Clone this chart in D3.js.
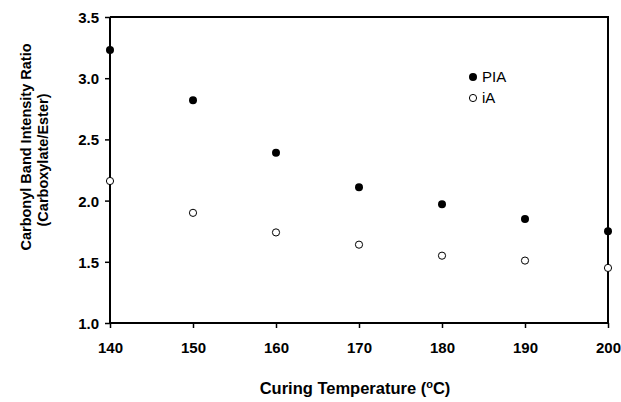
<!DOCTYPE html>
<html>
<head>
<meta charset="utf-8">
<script src="https://cdn.jsdelivr.net/npm/d3@7"></script>
<style>
  html, body { margin: 0; padding: 0; background: #fff; }
  svg { display: block; }
  text { font-family: "Liberation Sans", Arial, sans-serif; fill: #000; }
</style>
</head>
<body>
<svg id="chart" width="621" height="402"></svg>
<script>
// Curing temperature (°C)
const temperatures = [140, 150, 160, 170, 180, 190, 200];
// Carbonyl band intensity ratio (carboxylate/ester)
const piaRatio = [3.23, 2.82, 2.39, 2.11, 1.97, 1.85, 1.75];
const iaRatio  = [2.16, 1.90, 1.74, 1.64, 1.55, 1.51, 1.45];
const xTicks = [140, 150, 160, 170, 180, 190, 200];
const yTicks = [1.0, 1.5, 2.0, 2.5, 3.0, 3.5];
const seriesNames = ["PIA", "iA"];

const svg = d3.select("#chart");
const plot = { left: 110, right: 608, top: 17, bottom: 323 };

const x = d3.scaleLinear().domain([140, 200]).range([plot.left, plot.right]);
const y = d3.scaleLinear().domain([1.0, 3.5]).range([plot.bottom, plot.top]);

// frame: top and right edges
svg.append("path")
  .attr("d", `M${plot.left},${plot.top}H${plot.right}V${plot.bottom}`)
  .attr("fill", "none").attr("stroke", "#000").attr("stroke-width", 2);

const xAxis = svg.append("g")
  .attr("transform", `translate(0,${plot.bottom})`)
  .call(d3.axisBottom(x).tickValues(xTicks).tickSize(5).tickPadding(14).tickFormat(d3.format("d")));
const yAxis = svg.append("g")
  .attr("transform", `translate(${plot.left},0)`)
  .call(d3.axisLeft(y).tickValues(yTicks).tickSize(5).tickPadding(6).tickFormat(d3.format(".1f")));

[xAxis, yAxis].forEach(g => {
  g.select(".domain").attr("stroke-width", 2);
  g.selectAll(".tick line").attr("stroke-width", 1.5);
  g.selectAll(".tick text")
    .style("font-family", "'Liberation Sans', Arial, sans-serif")
    .style("font-size", "15px").style("font-weight", "bold");
});
xAxis.select(".domain").attr("d", `M${plot.left},0H${plot.right}`);
yAxis.select(".domain").attr("d", `M0,${plot.top}V${plot.bottom}`);
yAxis.selectAll(".tick text").attr("dy", "0.36em");

// data points
const pia = temperatures.map((t, i) => ({ t, v: piaRatio[i] }));
const ia = temperatures.map((t, i) => ({ t, v: iaRatio[i] }));

svg.append("g").selectAll("circle").data(ia).join("circle")
  .attr("cx", d => x(d.t)).attr("cy", d => y(d.v)).attr("r", 3.6)
  .attr("fill", "#fff").attr("stroke", "#000").attr("stroke-width", 1);
svg.append("g").selectAll("circle").data(pia).join("circle")
  .attr("cx", d => x(d.t)).attr("cy", d => y(d.v)).attr("r", 4)
  .attr("fill", "#000");

// legend
const legend = svg.append("g");
legend.append("circle").attr("cx", 473).attr("cy", 77).attr("r", 4).attr("fill", "#000");
legend.append("text").attr("x", 482).attr("y", 82).style("font-size", "15px").text(seriesNames[0]);
legend.append("circle").attr("cx", 473).attr("cy", 98).attr("r", 3.6)
  .attr("fill", "#fff").attr("stroke", "#000").attr("stroke-width", 1);
legend.append("text").attr("x", 482).attr("y", 103).style("font-size", "15px").text(seriesNames[1]);

// axis titles
const xTitle = svg.append("text")
  .attr("x", 355).attr("y", 394).attr("text-anchor", "middle")
  .style("font-size", "16.5px").style("font-weight", "bold");
xTitle.append("tspan").text("Curing Temperature (");
xTitle.append("tspan").attr("dy", -6).style("font-size", "11px").text("o");
xTitle.append("tspan").attr("dy", 6).text("C)");

svg.append("text")
  .attr("transform", "translate(31,147) rotate(-90)").attr("text-anchor", "middle")
  .style("font-size", "14.5px").style("font-weight", "bold")
  .text("Carbonyl Band Intensity Ratio");
svg.append("text")
  .attr("transform", "translate(48,160) rotate(-90)").attr("text-anchor", "middle")
  .style("font-size", "14.5px").style("font-weight", "bold")
  .text("(Carboxylate/Ester)");
</script>
</body>
</html>
